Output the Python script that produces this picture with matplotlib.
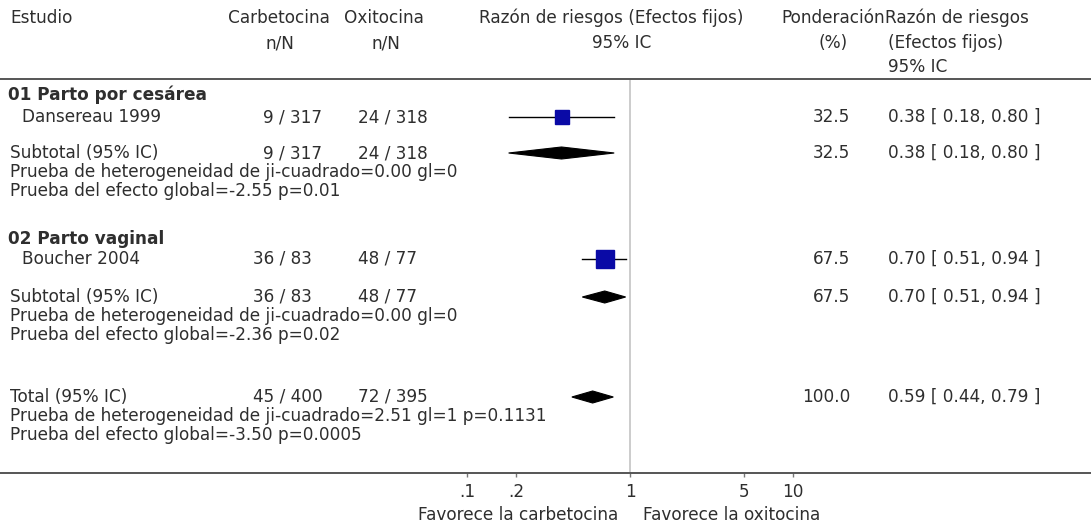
import matplotlib
matplotlib.use("Agg")
import matplotlib.pyplot as plt
from matplotlib.patches import Polygon
import matplotlib.transforms as mtransforms

# ---- data -------------------------------------------------------------
study_names = ["Dansereau 1999", "Boucher 2004"]
study_carb = ["9 / 317", "36 / 83"]
study_oxi = ["24 / 318", "48 / 77"]
study_rr = [0.38, 0.70]
study_lo = [0.18, 0.51]
study_hi = [0.80, 0.94]
study_weight = [32.5, 67.5]

group_titles = ["01 Parto por cesárea", "02 Parto vaginal"]
sub_carb = ["9 / 317", "36 / 83"]
sub_oxi = ["24 / 318", "48 / 77"]
sub_rr = [0.38, 0.70]
sub_lo = [0.18, 0.51]
sub_hi = [0.80, 0.94]
sub_weight = [32.5, 67.5]
sub_het = ["Prueba de heterogeneidad de ji-cuadrado=0.00 gl=0",
           "Prueba de heterogeneidad de ji-cuadrado=0.00 gl=0"]
sub_eff = ["Prueba del efecto global=-2.55 p=0.01",
           "Prueba del efecto global=-2.36 p=0.02"]

total_carb = "45 / 400"
total_oxi = "72 / 395"
total_rr, total_lo, total_hi = 0.59, 0.44, 0.79
total_weight = 100.0
total_het = "Prueba de heterogeneidad de ji-cuadrado=2.51 gl=1 p=0.1131"
total_eff = "Prueba del efecto global=-3.50 p=0.0005"

tick_values = [0.1, 0.2, 1, 5, 10]
tick_labels = [".1", ".2", "1", "5", "10"]

# ---- layout (pixel rows from the top of the figure) ---------------------
W, H = 1091, 525
TOP, BOT = 79, 473
row_title = [95, 239]
row_study = [117, 259]
row_sub = [153, 297]
row_total = 397
LINE_GAP = 19.0

plt.rcParams["font.family"] = ["DejaVu Sans"]
FS = 12.2
TXT = "#2e2e2e"

fig = plt.figure(figsize=(W / 100, H / 100), dpi=100)
ax = fig.add_axes([0, (H - BOT) / H, 1, (BOT - TOP) / H])
ax.set_xscale("log")
one_px, decade_px = 630, 163
ax.set_xlim(10 ** (-one_px / decade_px), 10 ** ((W - one_px) / decade_px))
ax.set_ylim(BOT, TOP)
for s in ("left", "right"):
    ax.spines[s].set_visible(False)
for s in ("top", "bottom"):
    ax.spines[s].set_color("#555555")
    ax.spines[s].set_linewidth(1.4)
ax.set_yticks([])
ax.set_xticks(tick_values)
ax.set_xticklabels(tick_labels)
ax.minorticks_off()
ax.tick_params(axis="x", direction="out", length=3, width=1, color="#777777",
               labelsize=FS, labelcolor=TXT, pad=4)
ax.axvline(1, color="#c4c4c4", lw=1.2, zorder=0)

# x in figure pixels, y in data rows
tx = mtransforms.blended_transform_factory(
    mtransforms.Affine2D().scale(1 / W, 1) + fig.transFigure, ax.transData)
# header: x in pixels, y in pixels from top
th = mtransforms.Affine2D().scale(1 / W, -1 / H).translate(0, 1) + fig.transFigure


def txt(x, y, s, ha="left", bold=False, tr=None):
    ax.text(x, y, s, ha=ha, va="center", fontsize=FS, color=TXT,
            fontweight="bold" if bold else "normal",
            transform=tr or tx, clip_on=False)


# header rows
hdr = [
    (10, 18, "Estudio", "left"),
    (279, 18, "Carbetocina", "center"),
    (384, 18, "Oxitocina", "center"),
    (611, 18, "Razón de riesgos (Efectos fijos)", "center"),
    (885, 18, "Ponderación", "right"),
    (885, 18, "Razón de riesgos", "left"),
    (280, 43, "n/N", "center"),
    (386, 43, "n/N", "center"),
    (622, 43, "95% IC", "center"),
    (848, 43, "(%)", "right"),
    (888, 43, "(Efectos fijos)", "left"),
    (888, 67, "95% IC", "left"),
]
for x, y, s, ha in hdr:
    txt(x, y, s, ha=ha, tr=th)

X_CARB, X_OXI, X_W, X_CI = 253, 358, 850, 888


def ci_text(r, lo, hi):
    return f"{r:.2f} [ {lo:.2f}, {hi:.2f} ]"


def diamond(y, lo, est, hi, half=6):
    # diamond spanning lo..hi horizontally in data units, half-height in rows
    ax.add_patch(Polygon([(lo, y), (est, y - half), (hi, y), (est, y + half)],
                         closed=True, facecolor="black", edgecolor="black",
                         lw=0.8, zorder=3))


for g in range(len(group_titles)):
    txt(8, row_title[g], group_titles[g], bold=True)
    y = row_study[g]
    txt(22, y, study_names[g])
    txt(X_CARB + (10 if g == 0 else 0), y, study_carb[g])
    txt(X_OXI, y, study_oxi[g])
    ax.plot([study_lo[g], study_hi[g]], [y, y], color="black", lw=1.0, zorder=2)
    ax.plot([study_rr[g]], [y], marker="s", linestyle="none",
            markersize=1.65 * study_weight[g] ** 0.5,
            color="#0a0aa6", markeredgecolor="#0a0aa6", zorder=3)
    txt(X_W, y, f"{study_weight[g]:.1f}", ha="right")
    txt(X_CI, y, ci_text(study_rr[g], study_lo[g], study_hi[g]))

    y = row_sub[g]
    txt(10, y, "Subtotal (95% IC)")
    txt(X_CARB + (10 if g == 0 else 0), y, sub_carb[g])
    txt(X_OXI, y, sub_oxi[g])
    diamond(y, sub_lo[g], sub_rr[g], sub_hi[g])
    txt(X_W, y, f"{sub_weight[g]:.1f}", ha="right")
    txt(X_CI, y, ci_text(sub_rr[g], sub_lo[g], sub_hi[g]))
    txt(10, y + LINE_GAP, sub_het[g])
    txt(10, y + 2 * LINE_GAP, sub_eff[g])

y = row_total
txt(10, y, "Total (95% IC)")
txt(X_CARB, y, total_carb)
txt(X_OXI, y, total_oxi)
diamond(y, total_lo, total_rr, total_hi)
txt(X_W, y, f"{total_weight:.1f}", ha="right")
txt(X_CI, y, ci_text(total_rr, total_lo, total_hi))
txt(10, y + LINE_GAP, total_het)
txt(10, y + 2 * LINE_GAP, total_eff)

# favour labels under the axis
txt(618, 515, "Favorece la carbetocina", ha="right", tr=th)
txt(643, 515, "Favorece la oxitocina", ha="left", tr=th)

fig.savefig("out.png", dpi=100, facecolor="white")
